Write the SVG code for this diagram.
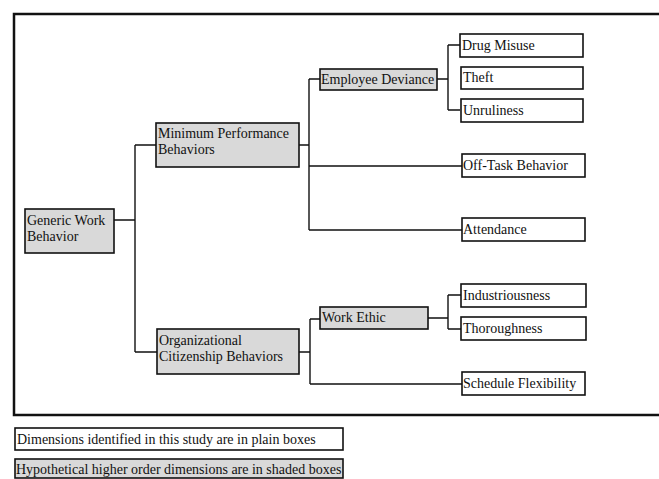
<svg xmlns="http://www.w3.org/2000/svg" width="659" height="479" viewBox="0 0 659 479">
<style>
.frame{fill:none;stroke:#111;stroke-width:2.5}
.plain{fill:#fff;stroke:#111;stroke-width:1.6}
.shaded{fill:#d9d9d9;stroke:#111;stroke-width:1.6}
.conn{fill:none;stroke:#111;stroke-width:1.4}
text{font-family:"Liberation Serif","Times New Roman",serif;font-size:14px;fill:#111}
</style>
<rect width="659" height="479" fill="#fff"/>
<path class="frame" d="M659,14 H14 V415 H659"/>
<g id="connectors">
<path class="conn" d="M114,220 H135 M135,145 V352 M135,145 H156 M135,352 H157"/>
<path class="conn" d="M299,145 H309 M309,79 V230 M309,79 H320 M309,166 H462 M309,230 H462"/>
<path class="conn" d="M437,79 H448 M448,45 V110 M448,45 H460 M448,110 H460"/>
<path class="conn" d="M299,352 H310 M310,319 V384 M310,319 H320 M310,384 H462"/>
<path class="conn" d="M428,318 H448 M448,295 V329 M448,295 H461 M448,329 H461"/>
</g>
<g id="generic"><rect class="shaded" x="25" y="209" width="89" height="44"/><text x="27" y="225">Generic Work</text><text x="27" y="241">Behavior</text></g>
<g id="mpb"><rect class="shaded" x="156" y="123" width="143" height="44"/><text x="158" y="138">Minimum Performance</text><text x="158" y="154">Behaviors</text></g>
<g id="ocb"><rect class="shaded" x="157" y="329" width="142" height="45"/><text x="159" y="345">Organizational</text><text x="159" y="361">Citizenship Behaviors</text></g>
<g id="deviance"><rect class="shaded" x="320" y="69" width="117" height="21"/><text x="321" y="84">Employee Deviance</text></g>
<g id="workethic"><rect class="shaded" x="320" y="307" width="108" height="22"/><text x="322" y="322">Work Ethic</text></g>
<g id="drug"><rect class="plain" x="460" y="34" width="123" height="23"/><text x="462" y="50">Drug Misuse</text></g>
<g id="theft"><rect class="plain" x="461" y="67" width="122" height="22"/><text x="463" y="82">Theft</text></g>
<g id="unruly"><rect class="plain" x="461" y="99" width="122" height="23"/><text x="463" y="115">Unruliness</text></g>
<g id="offtask"><rect class="plain" x="462" y="154" width="123" height="23"/><text x="463" y="170">Off-Task Behavior</text></g>
<g id="attendance"><rect class="plain" x="462" y="218" width="123" height="23"/><text x="463" y="234">Attendance</text></g>
<g id="industrious"><rect class="plain" x="461" y="284" width="125" height="23"/><text x="463" y="300">Industriousness</text></g>
<g id="thorough"><rect class="plain" x="461" y="317" width="125" height="23"/><text x="463" y="333">Thoroughness</text></g>
<g id="schedule"><rect class="plain" x="462" y="372" width="123" height="23"/><text x="463" y="388">Schedule Flexibility</text></g>
<g id="legend-plain"><rect class="plain" x="15" y="428" width="328" height="22"/><text x="17" y="444">Dimensions identified in this study are in plain boxes</text></g>
<g id="legend-shaded"><rect class="shaded" x="15" y="459" width="328" height="19"/><text x="16" y="474">Hypothetical higher order dimensions are in shaded boxes</text></g>
</svg>
